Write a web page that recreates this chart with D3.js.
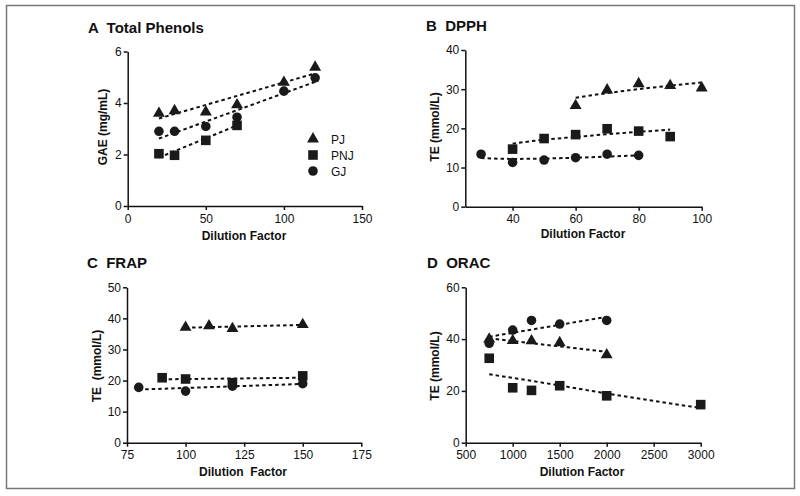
<!DOCTYPE html>
<html>
  <head>
    <meta charset="utf-8"/>
    <title>Dilution factor panels</title>
    <script src="https://cdnjs.cloudflare.com/ajax/libs/d3/7.8.5/d3.min.js"></script>
    <style>
      body { margin: 0; background: #fff; }
      text { font-family: "Liberation Sans", Arial, sans-serif; fill: #111; }
      .title { font-size: 15px; font-weight: bold; white-space: pre; }
      .axis-title { font-size: 12px; font-weight: bold; white-space: pre; }
      .tick text { font-size: 12px; fill: #111; }
      .axis path, .axis line { stroke: #111; stroke-width: 1.5px; }
      .fit { fill: none; stroke: #111; stroke-width: 2px; stroke-dasharray: 3.5,3; }
    </style>
  </head>
  <body>
    <script>

      var width = 800;
      var height = 496;

      // series names (same in every panel)
      var seriesNames = ["PJ", "PNJ", "GJ"];

      // A  Total Phenols
      var phenolsX = { PJ: [20, 30, 50, 70, 100, 120], PNJ: [20, 30, 50, 70], GJ: [20, 30, 50, 70, 100, 120] };
      var phenolsPJ  = [3.6, 3.7, 3.65, 3.93, 4.8, 5.39];
      var phenolsPNJ = [2.03, 1.97, 2.55, 3.13];
      var phenolsGJ  = [2.9, 2.9, 3.09, 3.45, 4.46, 4.98];
      var phenolsFitPJ  = [[20, 3.4], [120, 5.15]];
      var phenolsFitPNJ = [[20, 1.88], [70, 3.13]];
      var phenolsFitGJ  = [[20, 2.62], [120, 4.82]];

      // B  DPPH
      var dpphX = { PJ: [60, 70, 80, 90, 100], PNJ: [40, 50, 60, 70, 80, 90], GJ: [30, 40, 50, 60, 70, 80] };
      var dpphPJ  = [25.8, 29.8, 31.4, 30.9, 30.3];
      var dpphPNJ = [14.7, 17.4, 18.4, 19.9, 19.3, 17.9];
      var dpphGJ  = [13.4, 11.3, 11.9, 12.5, 13.4, 13.1];
      var dpphFitPJ  = [[60, 27.8], [70, 29.0], [80, 30.0], [90, 30.9], [100, 31.7]];
      var dpphFitPNJ = [[40, 16.1], [50, 17.1], [60, 17.8], [70, 18.5], [80, 19.1], [90, 19.7]];
      var dpphFitGJ  = [[30, 12.4], [40, 12.2], [50, 12.3], [60, 12.5], [70, 12.8], [80, 13.1]];

      // C  FRAP
      var frapX = { PJ: [100, 110, 120, 150], PNJ: [90, 100, 120, 150], GJ: [80, 100, 120, 150] };
      var frapPJ  = [37.1, 37.6, 36.7, 38.0];
      var frapPNJ = [20.9, 20.5, 19.3, 21.5];
      var frapGJ  = [17.8, 16.6, 18.2, 19.0];
      var frapFitPJ  = [[100, 37.0], [150, 37.9]];
      var frapFitPNJ = [[90, 20.4], [150, 20.9]];
      var frapFitGJ  = [[80, 17.1], [150, 18.9]];

      // D  ORAC
      var oracX = { PJ: [750, 1000, 1200, 1500, 2000], PNJ: [750, 1000, 1200, 1500, 2000, 3000], GJ: [750, 1000, 1200, 1500, 2000] };
      var oracPJ  = [40.0, 39.4, 39.3, 38.6, 33.9];
      var oracPNJ = [32.6, 21.2, 20.2, 22.0, 18.1, 14.7];
      var oracGJ  = [38.4, 43.5, 47.2, 45.8, 47.2];
      var oracFitPJ  = [[750, 40.3], [2000, 35.1]];
      var oracFitPNJ = [[750, 26.4], [1500, 22.1], [2000, 19.0], [3000, 13.4]];
      var oracFitGJ  = [[750, 40.9], [2000, 48.6]];

      // ticks
      var phenolsXTicks = [0, 50, 100, 150], phenolsYTicks = [0, 2, 4, 6];
      var dpphXTicks = [40, 60, 80, 100],    dpphYTicks = [0, 10, 20, 30, 40];
      var frapXTicks = [75, 100, 125, 150, 175], frapYTicks = [0, 10, 20, 30, 40, 50];
      var oracXTicks = [500, 1000, 1500, 2000, 2500, 3000], oracYTicks = [0, 20, 40, 60];

      var symbolFor = { PJ: d3.symbolTriangle, PNJ: d3.symbolSquare, GJ: d3.symbolCircle };
      var sizeFor = { PJ: 62, PNJ: 92, GJ: 72 };
      var fmt = d3.format("d");

      var panels = [
        { title: "A  Total Phenols", tx: 88, ty: 33,
          left: 127.7, right: 362, bottom: 206, top: 51.5,
          xDomain: [0, 150], yDomain: [0, 6], xTicks: phenolsXTicks, yTicks: phenolsYTicks,
          xLabel: "Dilution Factor", xlx: 244, xly: 240,
          yLabel: "GAE (mg/mL)", ylx: 107, yly: 127,
          xs: phenolsX, ys: { PJ: phenolsPJ, PNJ: phenolsPNJ, GJ: phenolsGJ },
          fits: { PJ: phenolsFitPJ, PNJ: phenolsFitPNJ, GJ: phenolsFitGJ }, legend: true },
        { title: "B  DPPH", tx: 426, ty: 31,
          left: 465.3, right: 701.7, bottom: 206.7, top: 50,
          xDomain: [25, 100], yDomain: [0, 40], xTicks: dpphXTicks, yTicks: dpphYTicks,
          xLabel: "Dilution Factor", xlx: 583, xly: 238,
          yLabel: "TE (mmol/L)", ylx: 438.5, yly: 127,
          xs: dpphX, ys: { PJ: dpphPJ, PNJ: dpphPNJ, GJ: dpphGJ },
          fits: { PJ: dpphFitPJ, PNJ: dpphFitPNJ, GJ: dpphFitGJ } },
        { title: "C  FRAP", tx: 87, ty: 268,
          left: 127, right: 361.3, bottom: 442.7, top: 287.3,
          xDomain: [75, 175], yDomain: [0, 50], xTicks: frapXTicks, yTicks: frapYTicks,
          xLabel: "Dilution  Factor", xlx: 243, xly: 476,
          yLabel: "TE  (mmol/L)", ylx: 101, yly: 366,
          xs: frapX, ys: { PJ: frapPJ, PNJ: frapPNJ, GJ: frapGJ },
          fits: { PJ: frapFitPJ, PNJ: frapFitPNJ, GJ: frapFitGJ } },
        { title: "D  ORAC", tx: 427, ty: 268,
          left: 465.7, right: 700.7, bottom: 442.7, top: 287.3,
          xDomain: [500, 3000], yDomain: [0, 60], xTicks: oracXTicks, yTicks: oracYTicks,
          xLabel: "Dilution Factor", xlx: 582, xly: 476,
          yLabel: "TE (mmol/L)", ylx: 439, yly: 366,
          xs: oracX, ys: { PJ: oracPJ, PNJ: oracPNJ, GJ: oracGJ },
          fits: { PJ: oracFitPJ, PNJ: oracFitPNJ, GJ: oracFitGJ } }
      ];

      var svg = d3.select("body").append("svg")
        .attr("width", width)
        .attr("height", height);

      // outer frame
      svg.append("rect")
        .attr("x", 6.5).attr("y", 5.5)
        .attr("width", 788).attr("height", 483)
        .attr("fill", "none")
        .attr("stroke", "#777")
        .attr("stroke-width", 1.5);

      panels.forEach(function (p) {
        var x = d3.scaleLinear().domain(p.xDomain).range([p.left, p.right]);
        var y = d3.scaleLinear().domain(p.yDomain).range([p.bottom, p.top]);
        var g = svg.append("g");

        g.append("text").attr("class", "title")
          .attr("x", p.tx).attr("y", p.ty).text(p.title);

        g.append("g").attr("class", "axis")
          .attr("transform", "translate(0," + p.bottom + ")")
          .call(d3.axisBottom(x).tickValues(p.xTicks).tickFormat(fmt)
            .tickSize(4).tickSizeOuter(0).tickPadding(4));

        g.append("g").attr("class", "axis")
          .attr("transform", "translate(" + p.left + ",0)")
          .call(d3.axisLeft(y).tickValues(p.yTicks).tickFormat(fmt)
            .tickSize(4).tickSizeOuter(0).tickPadding(2));

        g.append("text").attr("class", "axis-title")
          .attr("x", p.xlx).attr("y", p.xly)
          .attr("text-anchor", "middle").text(p.xLabel);

        g.append("text").attr("class", "axis-title")
          .attr("transform", "translate(" + p.ylx + "," + p.yly + ") rotate(-90)")
          .attr("text-anchor", "middle").text(p.yLabel);

        var line = d3.line()
          .x(function (d) { return x(d[0]); })
          .y(function (d) { return y(d[1]); })
          .curve(d3.curveMonotoneX);

        seriesNames.forEach(function (s) {
          g.append("path").attr("class", "fit").attr("d", line(p.fits[s]));
        });

        seriesNames.forEach(function (s) {
          var pts = p.xs[s].map(function (v, i) { return [v, p.ys[s][i]]; });
          g.selectAll(null).data(pts).enter().append("path")
            .attr("d", d3.symbol().type(symbolFor[s]).size(sizeFor[s]))
            .attr("transform", function (d) { return "translate(" + x(d[0]) + "," + y(d[1]) + ")"; })
            .attr("fill", "#1a1a1a");
        });

        if (p.legend) {
          var lg = g.append("g");
          var rows = [139, 155, 171];
          seriesNames.forEach(function (s, i) {
            lg.append("path")
              .attr("d", d3.symbol().type(symbolFor[s]).size(sizeFor[s]))
              .attr("transform", "translate(313," + rows[i] + ")")
              .attr("fill", "#1a1a1a");
            lg.append("text")
              .attr("x", 331).attr("y", rows[i] + 4.5)
              .style("font-size", "12px")
              .text(s);
          });
        }
      });

    </script>
  </body>
</html>
